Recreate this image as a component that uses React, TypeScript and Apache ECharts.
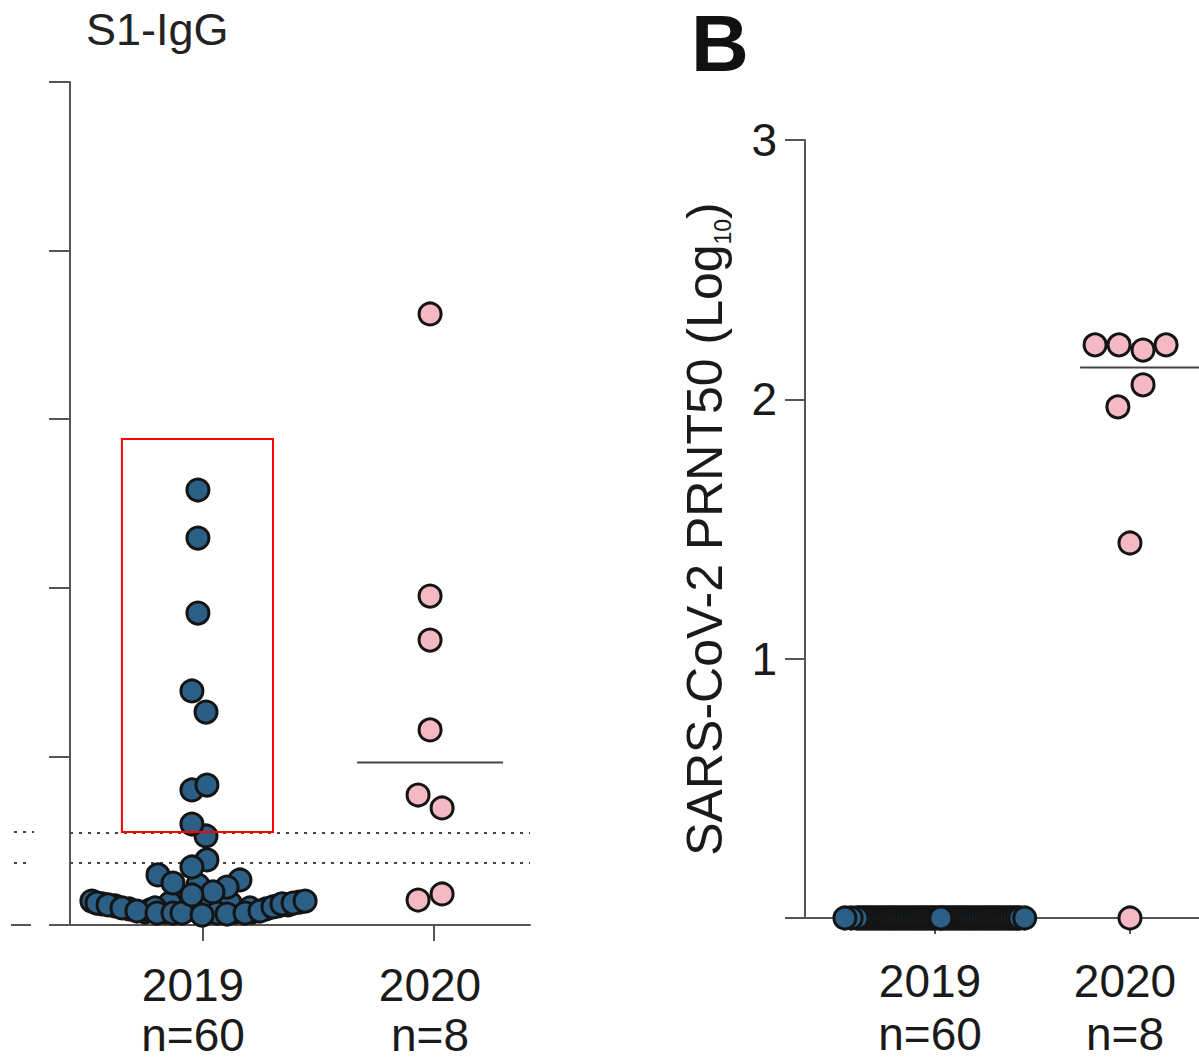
import React, { useEffect, useRef } from "react";
import * as echarts from "echarts";

// ---------- data ----------
// Panel A (S1-IgG): [x position (1 = 2019, 2 = 2020, with swarm offset), value]
const LEFT_2019: number[][] = [
  // densely packed bottom swarm (partly hidden)
  [0.563, 0.125], [0.619, 0.113], [0.68, 0.095], [0.749, 0.077], [0.771, 0.089],
  [0.835, 0.077], [0.892, 0.083], [0.935, 0.089], [0.965, 0.119], [1.03, 0.101],
  [1.082, 0.089], [1.139, 0.077], [1.212, 0.077], [1.273, 0.095], [1.325, 0.113],
  [1.368, 0.119], [1.416, 0.136], [0.922, 0.148], [1.074, 0.148], [0.987, 0.16],
  [1.117, 0.13], [0.857, 0.13], [1.009, 0.136], [0.792, 0.101], [1.203, 0.101],
  [0.978, 0.237],
  // bottom row
  [0.519, 0.142], [0.541, 0.13], [0.589, 0.119], [0.649, 0.101], [0.714, 0.083],
  [0.801, 0.071], [0.87, 0.071], [0.909, 0.071], [1.061, 0.071], [1.104, 0.065],
  [1.182, 0.071], [1.247, 0.083], [1.303, 0.107], [1.342, 0.125], [1.39, 0.13],
  [1.442, 0.142], [0.996, 0.059],
  // middle
  [0.805, 0.297], [0.87, 0.249], [1.16, 0.267], [1.104, 0.225], [1.043, 0.196],
  [0.952, 0.178], [1.017, 0.386], [0.952, 0.344],
  // upper
  [1.013, 0.528], [0.952, 0.599], [0.952, 0.801], [1.017, 0.83], [1.013, 1.263],
  [0.952, 1.388], [0.978, 1.85], [0.978, 2.295], [0.978, 2.58],
];
const LEFT_2020: number[][] = [
  [1.983, 3.624], [1.983, 1.951], [1.983, 1.69], [1.983, 1.157],
  [1.931, 0.771], [2.035, 0.694], [1.931, 0.148], [2.035, 0.184],
];
const LEFT_THRESHOLDS = [0.552, 0.368];
const LEFT_BOX = { x0: 0.649, x1: 1.303, y0: 0.552, y1: 2.883 };

// Panel B (PRNT50, log10)
const RIGHT_2019_X: number[] = [
  // right half, from centre outwards
  1.045, 1.06, 1.075, 1.09, 1.105, 1.12, 1.135, 1.15, 1.165, 1.18,
  1.195, 1.21, 1.225, 1.24, 1.255, 1.27, 1.285, 1.3, 1.315, 1.33,
  1.345, 1.36, 1.375, 1.39, 1.405, 1.42, 1.435, 1.46,
  // left half, from centre outwards
  1.005, 0.99, 0.975, 0.96, 0.945, 0.93, 0.915, 0.9, 0.885, 0.87,
  0.855, 0.84, 0.825, 0.81, 0.795, 0.78, 0.765, 0.75, 0.735, 0.72,
  0.705, 0.69, 0.675, 0.66, 0.645, 0.63, 0.615, 0.6, 0.57, 0.538,
  // centre
  1.026, 1.03,
];
const RIGHT_2019_VALUE = 0;
const RIGHT_2020: number[][] = [
  [1.821, 2.21], [1.944, 2.21], [2.067, 2.19], [2.185, 2.21],
  [2.067, 2.056], [1.938, 1.971], [2.0, 1.446], [2.0, 0],
];

const CATEGORIES = ["2019", "2020"];
const COUNTS = ["n=60", "n=8"];
const RIGHT_Y_TICKS = [0, 1, 2, 3];

function median(vals: number[]): number {
  const s = [...vals].sort((a, b) => a - b);
  const m = Math.floor(s.length / 2);
  return s.length % 2 ? s[m] : (s[m - 1] + s[m]) / 2;
}

const BLUE = "#2b5f86";
const PINK = "#f4b9c2";
const EDGE = "#141414";
const AXIS = "#555555";
const FONT = "'Liberation Sans', Arial, Helvetica, sans-serif";

export default function App() {
  const ref = useRef<HTMLDivElement>(null);
  useEffect(() => {
    if (!ref.current) return;
    const chart = echarts.init(ref.current, undefined, { renderer: "svg" });

    const leftMed = median(LEFT_2020.map((d) => d[1]));
    const rightMed = median(RIGHT_2020.map((d) => d[1]));

    const point = (color: string) => ({
      color,
      borderColor: EDGE,
      borderWidth: 3,
      opacity: 1,
    });

    const xLabel = (pads: number[], margin: number, lh: number) => ({
      show: true,
      customValues: [1, 2],
      margin,
      color: "#1a1a1a",
      fontFamily: FONT,
      fontSize: 46,
      formatter: (v: number) => {
        const i = Math.round(v) - 1;
        const k = "p" + i;
        return `{${k}|${CATEGORIES[i]}}\n{${k}|${COUNTS[i]}}`;
      },
      rich: {
        p0: { fontSize: 46, lineHeight: lh, fontFamily: FONT, color: "#1a1a1a", padding: [0, pads[0], 0, 0] },
        p1: { fontSize: 46, lineHeight: lh, fontFamily: FONT, color: "#1a1a1a", padding: [0, pads[1], 0, 0] },
      },
    });

    const axisLine = { show: true, onZero: false, lineStyle: { color: AXIS, width: 2 } };

    const option: any = {
      animation: false,
      backgroundColor: "#ffffff",
      title: [
        {
          text: "S1-IgG",
          left: 81,
          top: 2,
          textStyle: { fontFamily: FONT, fontSize: 45, fontWeight: "normal", color: "#222" },
        },
        {
          text: "B",
          left: 686,
          top: -2,
          textStyle: { fontFamily: FONT, fontSize: 80, fontWeight: "bold", color: "#111" },
        },
      ],
      grid: [
        { left: 70, top: 82, width: 460, bottom: 137, containLabel: false, outerBoundsMode: "none" },
        { left: 805, top: 140, right: 0, bottom: 144, containLabel: false, outerBoundsMode: "none" },
      ],
      xAxis: [
        {
          type: "value",
          gridIndex: 0,
          min: 0.4242,
          max: 2.4156,
          axisLine,
          axisTick: { show: true, customValues: [1, 2], length: 16, lineStyle: { color: AXIS, width: 2 } },
          axisLabel: xLabel([20, 8], 35, 50),
          splitLine: { show: false },
        },
        {
          type: "value",
          gridIndex: 1,
          min: 0.3333,
          max: 2.354,
          axisLine,
          axisTick: { show: true, customValues: [1, 2], length: 16, lineStyle: { color: AXIS, width: 2 } },
          axisLabel: xLabel([10, 10], 36, 53),
          splitLine: { show: false },
        },
      ],
      yAxis: [
        {
          type: "value",
          gridIndex: 0,
          min: 0,
          max: 5,
          interval: 1,
          axisLine,
          axisTick: { show: true, length: 21, lineStyle: { color: AXIS, width: 2 } },
          axisLabel: { show: false },
          splitLine: { show: false },
        },
        {
          type: "value",
          gridIndex: 1,
          min: 0,
          max: 3,
          interval: 1,
          axisLine,
          axisTick: { show: true, length: 20, lineStyle: { color: AXIS, width: 2 } },
          axisLabel: {
            show: true,
            margin: 28,
            color: "#1a1a1a",
            fontFamily: FONT,
            fontSize: 46,
            customValues: RIGHT_Y_TICKS,
            formatter: (v: number) => (v === 0 ? "" : String(v)),
          },
          splitLine: { show: false },
          name: "{a|SARS-CoV-2 PRNT50 (Log}{s|10}{a|)}",
          nameLocation: "middle",
          nameGap: 71,
          nameTextStyle: {
            fontFamily: FONT,
            fontSize: 50,
            color: "#1a1a1a",
            rich: {
              a: { fontFamily: FONT, fontSize: 50, color: "#1a1a1a", lineHeight: 58 },
              s: { fontFamily: FONT, fontSize: 23, color: "#1a1a1a", lineHeight: 58, verticalAlign: "bottom", padding: [15, 0, 0, 0] },
            },
          },
        },
      ],
      series: [
        {
          type: "scatter",
          xAxisIndex: 0,
          yAxisIndex: 0,
          clip: false,
          symbol: "circle",
          symbolSize: 22,
          itemStyle: point(BLUE),
          data: LEFT_2019,
          z: 3,
          markArea: {
            silent: true,
            itemStyle: { color: "rgba(0,0,0,0)", borderColor: "#ff0000", borderWidth: 2 },
            data: [[{ coord: [LEFT_BOX.x0, LEFT_BOX.y1] }, { coord: [LEFT_BOX.x1, LEFT_BOX.y0] }]],
            z: 10,
          },
        },
        {
          type: "scatter",
          xAxisIndex: 0,
          yAxisIndex: 0,
          clip: false,
          symbol: "circle",
          symbolSize: 22,
          itemStyle: point(PINK),
          data: LEFT_2020,
          z: 3,
          markLine: {
            silent: true,
            symbol: "none",
            label: { show: false },
            lineStyle: { type: [3, 6], color: "#444", width: 2 },
            data: [
              ...LEFT_THRESHOLDS.map((v) => ({ yAxis: v })),
              ...LEFT_THRESHOLDS.map((v, i) => [
                { x: 14, yAxis: v },
                { x: i === 0 ? 34 : 30, yAxis: v },
              ]),
              [
                { x: 11, yAxis: 0, lineStyle: { type: "solid", color: AXIS, width: 2 } },
                { x: 31, yAxis: 0 },
              ],
            ],
            z: 1,
          },
        },
        {
          type: "line",
          xAxisIndex: 0,
          yAxisIndex: 0,
          symbol: "none",
          lineStyle: { color: "#444", width: 2 },
          data: [
            [1.667, leftMed],
            [2.299, leftMed],
          ],
          z: 2,
        },
        {
          type: "scatter",
          xAxisIndex: 1,
          yAxisIndex: 1,
          clip: false,
          symbol: "circle",
          symbolSize: 22,
          itemStyle: point(BLUE),
          data: RIGHT_2019_X.map((x) => [x, RIGHT_2019_VALUE]),
          z: 3,
        },
        {
          type: "line",
          xAxisIndex: 1,
          yAxisIndex: 1,
          symbol: "none",
          clip: true,
          lineStyle: { color: "#444", width: 2 },
          data: [
            [1.744, rightMed],
            [2.4, rightMed],
          ],
          z: 2,
        },
        {
          type: "scatter",
          xAxisIndex: 1,
          yAxisIndex: 1,
          clip: false,
          symbol: "circle",
          symbolSize: 22,
          itemStyle: point(PINK),
          data: RIGHT_2020,
          z: 3,
        },
      ],
    };

    chart.setOption(option);
    return () => chart.dispose();
  }, []);

  return (
    <div
      ref={ref}
      style={{ position: "absolute", left: 0, top: 0, width: 1199, height: 1062, background: "#fff" }}
    />
  );
}
